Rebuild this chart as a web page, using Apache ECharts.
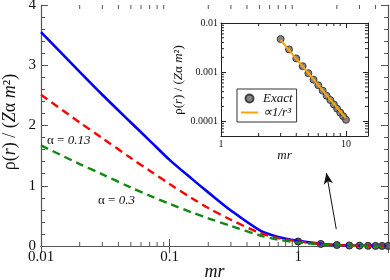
<!DOCTYPE html>
<html><head><meta charset="utf-8">
<script src="https://cdn.jsdelivr.net/npm/echarts@6/dist/echarts.min.js"></script>
<style>html,body{margin:0;padding:0;background:#fff}#c{width:390px;height:280px}</style>
</head><body><div id="c"></div>
<script>
// ---- data ----
const curveR   = [0.01,0.02,0.03,0.05,0.07,0.1,0.15,0.2,0.3,0.5,0.7,1,1.5,2,3,5];
const rhoBlue  = [3.55,2.89,2.51,2.05,1.75,1.43,1.11,0.89,0.59,0.265,0.15,0.085,0.035,0.016,0.005,0.001];
const rhoRed   = [2.51,2.05,1.79,1.46,1.25,1.03,0.79,0.63,0.435,0.22,0.13,0.078,0.033,0.015,0.005,0.001];
const rhoGreen = [1.67,1.36,1.19,0.97,0.835,0.70,0.555,0.46,0.333,0.178,0.105,0.06,0.028,0.014,0.005,0.001];
const exactR   = [1,1.5,2,2.5,3,3.5,4,4.5,5,5.5,6,6.5,7,7.5,8,8.5,9,9.5,10];
const exactRho = [0.075,0.034,0.0165,0.0085,0.0047,0.0029,0.0019,0.00132,0.00095,0.00070,0.00054,0.00042,0.00033,0.00027,0.00022,0.00018,0.00015,0.000126,0.000107];
const fitR     = [3,10];
const fitRho   = [0.0045,0.000115];
const mainXTickVals = [0.01,0.1,1];
const mainXTickLabels = ['0.01','0.1','1'];
const mainYTickLabels = ['0','1','2','3','4'];
const insetXTickVals = [1,10];
const insetXTickLabels = ['1','10'];
const insetYTickVals = [0.0001,0.001,0.01];
const insetYTickLabels = ['0.0001','0.001','0.01'];
const mainMinorX = [0.02,0.03,0.04,0.05,0.06,0.07,0.08,0.09,0.2,0.3,0.4,0.5,0.6,0.7,0.8,0.9,2,3,4];
const insetMinorX = [2,3,4,5,6,7,8,9];
const insetMinorY = [0.00006,0.00007,0.00008,0.00009,0.0002,0.0003,0.0004,0.0005,0.0006,0.0007,0.0008,0.0009,0.002,0.003,0.004,0.005,0.006,0.007,0.008,0.009];

const SERIF = 'Liberation Serif';
function logFmt(vals, labels){
  return function(v){
    for (let i=0;i<vals.length;i++){ if (Math.abs(Math.log10(v)-Math.log10(vals[i]))<1e-6) return labels[i]; }
    return '';
  };
}
const pair = (xs, ys) => xs.map((x,i)=>[x,ys[i]]);
const mainExact = pair(exactR, exactRho).filter(p=>p[0]<=5);
const insetExact = pair(exactR, exactRho).filter(p=>p[0]>=3);

const axisCol = '#555';
function minorXSeries(xi, yi, vals, yPlace, len, col){
  return {type:'custom', xAxisIndex:xi, yAxisIndex:yi, silent:true, z:1,
    data: vals.map(v=>[v,yPlace]),
    renderItem:function(params, api){
      const x = api.coord([api.value(0), yPlace])[0];
      const cs = params.coordSys;
      const b = cs.y+cs.height, t = cs.y;
      return {type:'group', children:[
        {type:'line', shape:{x1:x,y1:b,x2:x,y2:b-len}, style:{stroke:col,lineWidth:1}},
        {type:'line', shape:{x1:x,y1:t,x2:x,y2:t+len}, style:{stroke:col,lineWidth:1}}
      ]};
    }};
}
function minorYSeries(xi, yi, vals, xPlace, len, col){
  return {type:'custom', xAxisIndex:xi, yAxisIndex:yi, silent:true, z:1,
    data: vals.map(v=>[xPlace,v]),
    renderItem:function(params, api){
      const y = api.coord([xPlace, api.value(1)])[1];
      const cs = params.coordSys;
      const l = cs.x, r = cs.x+cs.width;
      return {type:'group', children:[
        {type:'line', shape:{x1:l,y1:y,x2:l+len,y2:y}, style:{stroke:col,lineWidth:1}},
        {type:'line', shape:{x1:r,y1:y,x2:r-len,y2:y}, style:{stroke:col,lineWidth:1}}
      ]};
    }};
}

function richFor(fs){
  return {
    n:{fontFamily:SERIF, fontSize:fs, fill:'#111'},
    i:{fontFamily:SERIF, fontSize:fs, fontStyle:'italic', fill:'#111'}
  };
}
const rhoName = '{n|ρ(}{i|r}{n|) / (}{i|Z}{n|α }{i|m}{n|²)}';

const chart = echarts.init(document.getElementById('c'), null, {renderer:'canvas'});
chart.setOption({
  animation:false,
  backgroundColor:'#fff',
  grid:[
    {left:41, top:5, right:2, bottom:34, outerBoundsMode:'none', containLabel:false},
    {left:221, top:23, width:147, height:113, outerBoundsMode:'none', containLabel:false}
  ],
  legend:{
    left:237, top:89, orient:'vertical', itemGap:1, padding:[3,4,3,4],
    borderColor:'#333', borderWidth:1, itemWidth:17, itemHeight:8,
    textStyle:{fontFamily:SERIF, fontSize:13, fontStyle:'italic', color:'#111'},
    data:[{name:'Exact', icon:'circle'},
          {name:'∝1/r³', icon:'path://M0,0 L17,0 L17,2 L0,2 Z', itemStyle:{color:'#ffa500'}}]
  },
  xAxis:[
    {type:'log', gridIndex:0, min:0.01, max:5, position:'bottom',
     name:'mr', nameLocation:'middle', nameGap:17, nameMoveOverlap:false,
     nameTextStyle:{fontFamily:SERIF, fontSize:18, fontStyle:'italic', color:'#111'},
     axisLine:{lineStyle:{color:axisCol, width:1.2}},
     axisTick:{inside:true, length:7, lineStyle:{color:axisCol}},
     axisLabel:{formatter:logFmt(mainXTickVals, mainXTickLabels), fontFamily:SERIF, fontSize:15, color:'#111', margin:4},
     splitLine:{show:false}},
    {type:'log', gridIndex:0, min:0.01, max:5, position:'top',
     axisLine:{lineStyle:{color:axisCol, width:1.2}},
     axisTick:{inside:true, length:7, lineStyle:{color:axisCol}},
     axisLabel:{show:false}, splitLine:{show:false}},
    {type:'log', gridIndex:1, min:1, max:15, position:'bottom',
     name:'mr', nameLocation:'middle', nameGap:13, nameMoveOverlap:false,
     nameTextStyle:{fontFamily:SERIF, fontSize:13, fontStyle:'italic', color:'#111', padding:[0,20,0,0]},
     axisLine:{lineStyle:{color:'#222'}},
     axisTick:{inside:true, length:5, lineStyle:{color:'#222'}},
     axisLabel:{formatter:logFmt(insetXTickVals, insetXTickLabels), fontFamily:SERIF, fontSize:10, color:'#111', margin:3},
     splitLine:{show:false}},
    {type:'log', gridIndex:1, min:1, max:15, position:'top',
     axisLine:{lineStyle:{color:'#222'}},
     axisTick:{inside:true, length:5, lineStyle:{color:'#222'}},
     axisLabel:{show:false}, splitLine:{show:false}}
  ],
  yAxis:[
    {type:'value', gridIndex:0, min:0, max:4, interval:1, position:'left',
     axisLine:{lineStyle:{color:axisCol, width:1.2}},
     axisTick:{inside:true, length:7, lineStyle:{color:axisCol}},
     minorTick:{show:true, splitNumber:5, length:4, lineStyle:{color:axisCol}},
     axisLabel:{formatter:(v)=>mainYTickLabels[Math.round(v)], fontFamily:SERIF, fontSize:15, color:'#111', margin:5},
     splitLine:{show:false}, minorSplitLine:{show:false}},
    {type:'value', gridIndex:0, min:0, max:4, interval:1, position:'right',
     axisLine:{show:true, lineStyle:{color:axisCol, width:1.2}},
     axisTick:{show:true, inside:true, length:7, lineStyle:{color:axisCol}},
     minorTick:{show:true, splitNumber:5, length:4, lineStyle:{color:axisCol}},
     axisLabel:{show:false}, splitLine:{show:false}},
    {type:'log', gridIndex:1, min:0.00005, max:0.01, position:'left',
     axisLine:{lineStyle:{color:'#222'}},
     axisTick:{inside:true, length:5, lineStyle:{color:'#222'}},
     axisLabel:{formatter:logFmt(insetYTickVals, insetYTickLabels), fontFamily:SERIF, fontSize:10, color:'#111', margin:3},
     splitLine:{show:false}},
    {type:'log', gridIndex:1, min:0.00005, max:0.01, position:'right',
     axisLine:{show:true, lineStyle:{color:'#222'}},
     axisTick:{show:true, inside:true, length:5, lineStyle:{color:'#222'}},
     axisLabel:{show:false}, splitLine:{show:false}}
  ],
  series:[
    minorXSeries(0,0,mainMinorX,1,4,axisCol),
    minorXSeries(2,2,insetMinorX,0.001,3,'#222'),
    minorYSeries(2,2,insetMinorY,2,3,'#222'),
    {name:'ExactMain', type:'line', xAxisIndex:0, yAxisIndex:0, data:mainExact,
     symbol:'circle', symbolSize:7, clip:false,
     lineStyle:{color:'#111', width:1.2},
     itemStyle:{color:'#666', borderColor:'#222', borderWidth:1}, z:2},
    {name:'blue', type:'line', xAxisIndex:0, yAxisIndex:0, data:pair(curveR,rhoBlue),
     symbol:'none', smooth:0.3, lineStyle:{color:'#0000ff', width:2.6}, z:3},
    {name:'red', type:'line', xAxisIndex:0, yAxisIndex:0, data:pair(curveR,rhoRed),
     symbol:'none', smooth:0.3, lineStyle:{color:'#ff0000', width:2.4, type:[8,5]}, z:3},
    {name:'green', type:'line', xAxisIndex:0, yAxisIndex:0, data:pair(curveR,rhoGreen),
     symbol:'none', smooth:0.3, lineStyle:{color:'#118811', width:2.4, type:[8,5]}, z:3,
     markLine:{silent:true, symbol:['none','arrow'], symbolSize:[7,11],
       label:{show:false}, lineStyle:{color:'#111', width:1, type:'solid'},
       data:[[{coord:[1.98,0.28]},{coord:[1.66,1.21]}]]}},
    {name:'Exact', type:'scatter', xAxisIndex:2, yAxisIndex:2, data:insetExact,
     symbol:'circle', symbolSize:7,
     itemStyle:{color:'#666', borderColor:'#222', borderWidth:1}, z:2},
    {name:'∝1/r³', type:'line', xAxisIndex:2, yAxisIndex:2, data:pair(fitR,fitRho),
     symbol:'none', lineStyle:{color:'#ffa500', width:2}, itemStyle:{color:'#ffa500'}, z:3}
  ],
  graphic:[
    {type:'text', x:10, y:122, rotation:Math.PI/2, z:10,
     style:{text:rhoName, rich:richFor(18), align:'center', verticalAlign:'middle'}},
    {type:'text', x:179, y:80, rotation:Math.PI/2, z:10,
     style:{text:rhoName, rich:richFor(13), align:'center', verticalAlign:'middle'}},
    {type:'text', left:47, top:134, z:10, style:{text:'{a|α = }{b|0.13}',
      rich:{a:{fontFamily:SERIF, fontSize:13, fill:'#111'}, b:{fontFamily:SERIF, fontSize:13, fontStyle:'italic', fill:'#111'}}}},
    {type:'text', left:98, top:194, z:10, style:{text:'{a|α = }{b|0.3}',
      rich:{a:{fontFamily:SERIF, fontSize:13, fill:'#111'}, b:{fontFamily:SERIF, fontSize:13, fontStyle:'italic', fill:'#111'}}}}
  ]
});
</script></body></html>
